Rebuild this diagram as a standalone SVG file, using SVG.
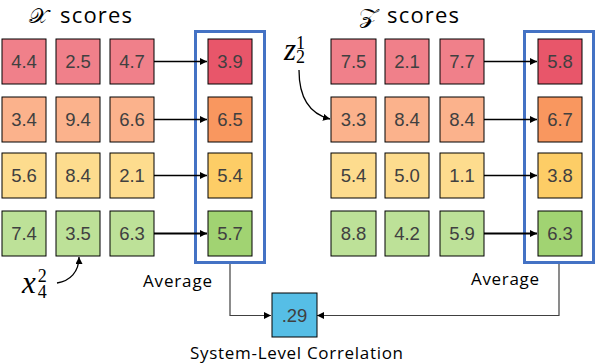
<svg xmlns="http://www.w3.org/2000/svg" width="596" height="364" viewBox="0 0 596 364">
<defs>
<marker id="ah" viewBox="0 0 8 8" refX="8" refY="4" markerWidth="7" markerHeight="7" markerUnits="userSpaceOnUse" orient="auto"><path d="M0,0 L8,4 L0,8 Z" fill="#000"/></marker>
</defs>
<style>
.b{stroke:#000;stroke-width:1}
.r1{fill:#F0808A}.a1{fill:#E8566A}
.r2{fill:#FBB28C}.a2{fill:#F9975F}
.r3{fill:#FDDC8E}.a3{fill:#FDCD66}
.r4{fill:#BDE198}.a4{fill:#A1D372}
.c{fill:#56BEE6}
.v{font-family:"Liberation Sans",Arial,sans-serif;font-size:18.5px;fill:#404040;text-anchor:middle}
.lbl{font-family:"Open Sans","Noto Sans",sans-serif;font-size:17px;fill:#000}
.ttl{font-family:"Open Sans","Noto Sans",sans-serif;font-size:22px;fill:#000}
.sc{font-family:"DejaVu Serif",serif;font-size:20px;fill:#000}
.m{font-family:"Liberation Serif","DejaVu Serif",serif;fill:#000}
.grp{fill:none;stroke:#4472C4;stroke-width:3}
.ar{fill:none;stroke:#000;stroke-width:1.3}
.ar4{fill:none;stroke:#000;stroke-width:2.2}
.cn{fill:none;stroke:#404040;stroke-width:1.2}
</style>
<rect width="596" height="364" fill="#fff"/>

<text class="sc" x="29" y="23" textLength="19" lengthAdjust="spacingAndGlyphs">𝒳</text>
<text class="ttl" x="60" y="23" textLength="72">scores</text>
<text class="sc" x="359" y="23" textLength="19" lengthAdjust="spacingAndGlyphs">𝒵</text>
<text class="ttl" x="387" y="23" textLength="72">scores</text>

<rect id="groupX" class="grp" x="195.5" y="31.5" width="69" height="231"/>
<rect id="groupZ" class="grp" x="524.5" y="31.5" width="69" height="231"/>

<g id="connectors">
<line class="ar" x1="154" y1="61.5" x2="207" y2="61.5" marker-end="url(#ah)"/>
<line class="ar" x1="154" y1="119.5" x2="207" y2="119.5" marker-end="url(#ah)"/>
<line class="ar" x1="154" y1="175.5" x2="207" y2="175.5" marker-end="url(#ah)"/>
<line class="ar4" x1="154" y1="233.5" x2="207" y2="233.5" marker-end="url(#ah)"/>
<line class="ar" x1="484" y1="61.5" x2="537" y2="61.5" marker-end="url(#ah)"/>
<line class="ar" x1="484" y1="119.5" x2="537" y2="119.5" marker-end="url(#ah)"/>
<line class="ar" x1="484" y1="175.5" x2="537" y2="175.5" marker-end="url(#ah)"/>
<line class="ar4" x1="484" y1="233.5" x2="537" y2="233.5" marker-end="url(#ah)"/>
<polyline class="cn" points="230,264 230,315.5 271,315.5" marker-end="url(#ah)"/>
<polyline class="cn" points="559,264 559,315.5 317,315.5" marker-end="url(#ah)"/>
<path class="ar" d="M299,70 C299,98 310,114 330,119" marker-end="url(#ah)"/>
<path class="ar" d="M57,283 C70,281 79,272 79,257" marker-end="url(#ah)"/>
</g>

<g id="x-row1">
<rect class="b r1" x="2" y="39" width="44" height="45"/><text class="v" x="24" y="68">4.4</text>
<rect class="b r1" x="56" y="39" width="44" height="45"/><text class="v" x="78" y="68">2.5</text>
<rect class="b r1" x="110" y="39" width="44" height="45"/><text class="v" x="132" y="68">4.7</text>
</g>
<g id="x-row2">
<rect class="b r2" x="2" y="97" width="44" height="45"/><text class="v" x="24" y="126">3.4</text>
<rect class="b r2" x="56" y="97" width="44" height="45"/><text class="v" x="78" y="126">9.4</text>
<rect class="b r2" x="110" y="97" width="44" height="45"/><text class="v" x="132" y="126">6.6</text>
</g>
<g id="x-row3">
<rect class="b r3" x="2" y="153" width="44" height="45"/><text class="v" x="24" y="182">5.6</text>
<rect class="b r3" x="56" y="153" width="44" height="45"/><text class="v" x="78" y="182">8.4</text>
<rect class="b r3" x="110" y="153" width="44" height="45"/><text class="v" x="132" y="182">2.1</text>
</g>
<g id="x-row4">
<rect class="b r4" x="2" y="211" width="44" height="45"/><text class="v" x="24" y="240">7.4</text>
<rect class="b r4" x="56" y="211" width="44" height="45"/><text class="v" x="78" y="240">3.5</text>
<rect class="b r4" x="110" y="211" width="44" height="45"/><text class="v" x="132" y="240">6.3</text>
</g>
<g id="x-avg">
<rect class="b a1" x="208" y="39" width="44" height="45"/><text class="v" x="230" y="68">3.9</text>
<rect class="b a2" x="208" y="97" width="44" height="45"/><text class="v" x="230" y="126">6.5</text>
<rect class="b a3" x="208" y="153" width="44" height="45"/><text class="v" x="230" y="182">5.4</text>
<rect class="b a4" x="208" y="211" width="44" height="45"/><text class="v" x="230" y="240">5.7</text>
</g>

<g id="z-row1">
<rect class="b r1" x="331" y="39" width="45" height="45"/><text class="v" x="353.5" y="68">7.5</text>
<rect class="b r1" x="385" y="39" width="44" height="45"/><text class="v" x="407" y="68">2.1</text>
<rect class="b r1" x="440" y="39" width="44" height="45"/><text class="v" x="462" y="68">7.7</text>
</g>
<g id="z-row2">
<rect class="b r2" x="331" y="97" width="45" height="45"/><text class="v" x="353.5" y="126">3.3</text>
<rect class="b r2" x="385" y="97" width="44" height="45"/><text class="v" x="407" y="126">8.4</text>
<rect class="b r2" x="440" y="97" width="44" height="45"/><text class="v" x="462" y="126">8.4</text>
</g>
<g id="z-row3">
<rect class="b r3" x="331" y="153" width="45" height="45"/><text class="v" x="353.5" y="182">5.4</text>
<rect class="b r3" x="385" y="153" width="44" height="45"/><text class="v" x="407" y="182">5.0</text>
<rect class="b r3" x="440" y="153" width="44" height="45"/><text class="v" x="462" y="182">1.1</text>
</g>
<g id="z-row4">
<rect class="b r4" x="331" y="211" width="45" height="45"/><text class="v" x="353.5" y="240">8.8</text>
<rect class="b r4" x="385" y="211" width="44" height="45"/><text class="v" x="407" y="240">4.2</text>
<rect class="b r4" x="440" y="211" width="44" height="45"/><text class="v" x="462" y="240">5.9</text>
</g>
<g id="z-avg">
<rect class="b a1" x="538" y="39" width="44" height="45"/><text class="v" x="560" y="68">5.8</text>
<rect class="b a2" x="538" y="97" width="44" height="45"/><text class="v" x="560" y="126">6.7</text>
<rect class="b a3" x="538" y="153" width="44" height="45"/><text class="v" x="560" y="182">3.8</text>
<rect class="b a4" x="538" y="211" width="44" height="45"/><text class="v" x="560" y="240">6.3</text>
</g>

<g id="corr">
<rect class="b c" x="272" y="293" width="45" height="44"/><text class="v" x="294.5" y="321.5">.29</text>
</g>

<text class="lbl" x="143" y="287" textLength="69">Average</text>
<text class="lbl" x="471" y="285" textLength="68">Average</text>
<text class="lbl" x="190" y="359" textLength="213">System-Level Correlation</text>

<g id="z21">
<text class="m" x="284" y="60"><tspan font-style="italic" font-size="31">z</tspan><tspan font-size="18" dy="-11">1</tspan><tspan font-size="18" dx="-9" dy="14">2</tspan></text>
</g>
<g id="x42">
<text class="m" x="22" y="293"><tspan font-style="italic" font-size="31">x</tspan><tspan font-size="18" dx="2" dy="-11">2</tspan><tspan font-size="18" dx="-9" dy="16">4</tspan></text>
</g>
</svg>
